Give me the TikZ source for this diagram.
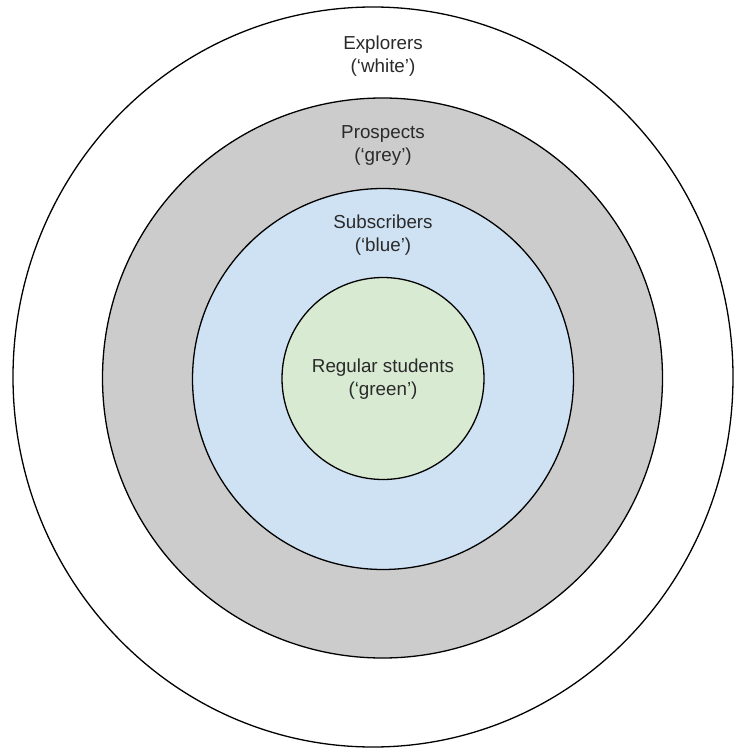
\documentclass[tikz,border=0pt]{standalone}
\usepackage{fontspec}
\setmainfont{Liberation Sans}
\usetikzlibrary{shapes.geometric}
\definecolor{ringgrey}{HTML}{CCCCCC}
\definecolor{ringblue}{HTML}{CFE2F3}
\definecolor{ringgreen}{HTML}{D9EAD3}
\definecolor{txt}{HTML}{2A2A2A}
\tikzset{
  ring/.style={draw=black, line width=1.3pt, inner sep=0pt, outer sep=0pt},
  lbl/.style={align=center, text=txt, inner sep=0pt, font=\fontsize{18.8}{23}\selectfont}
}
\begin{document}
\begin{tikzpicture}[x=1pt,y=1pt]
\useasboundingbox (0,0) rectangle (744,-749);
\fill[white] (0,0) rectangle (744,-749);
\node[ring, ellipse, fill=white, minimum width=720pt, minimum height=740pt] (outer) at (373,-377) {};
\node[ring, circle, fill=ringgrey, minimum size=560pt] (grey) at (382.5,-378) {};
\node[ring, circle, fill=ringblue, minimum size=381pt] (blue) at (383,-379) {};
\node[ring, circle, fill=ringgreen, minimum size=202pt] (green) at (383,-378.5) {};
\node[lbl] (lwhite) at (383,-56) {Explorers\\(‘white’)};
\node[lbl] (lgrey) at (383,-145) {Prospects\\(‘grey’)};
\node[lbl] (lblue) at (383,-235) {Subscribers\\(‘blue’)};
\node[lbl] (lgreen) at (383,-379) {Regular students\\(‘green’)};
\end{tikzpicture}
\end{document}
